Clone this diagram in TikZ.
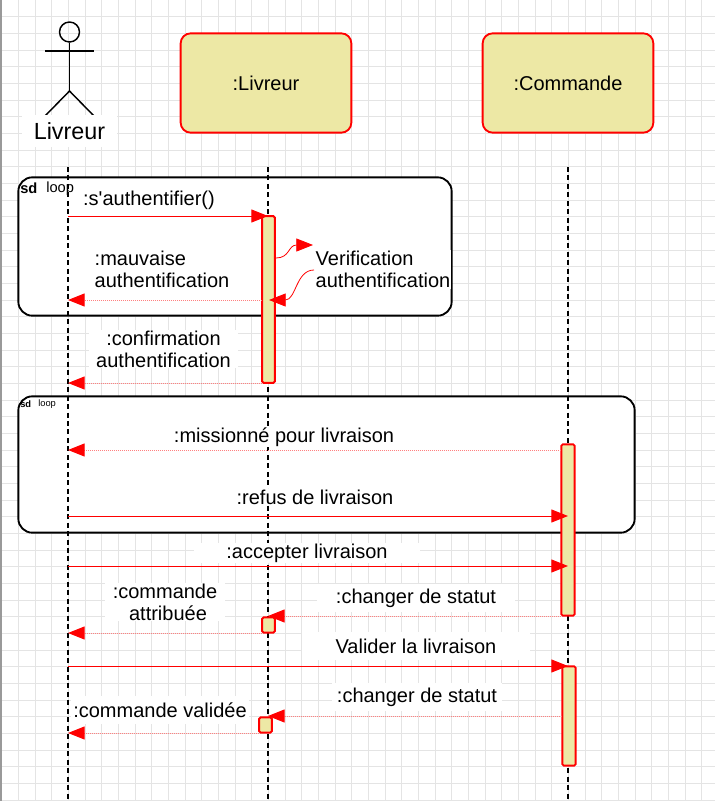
\documentclass[tikz,border=0pt]{standalone}
\usepackage{fontspec}
\setmainfont{Liberation Sans}
\usepackage{xcolor}
\usetikzlibrary{arrows.meta}
\definecolor{sable}{RGB}{237,232,165}
\definecolor{quadrillage}{RGB}{228,228,228}
\tikzset{
    lifeline/.style={black, line width=1.1pt, dash pattern=on 3.75pt off 2.6pt},
    objet/.style={draw=red, fill=sable, line width=1.4pt, rounded corners=7.5pt, minimum width=128pt, minimum height=74.5pt, font=\fontsize{15}{18}\selectfont},
    activation/.style={draw=red, fill=sable, line width=1.4pt, rounded corners=1.1pt, minimum width=9.5pt, inner sep=0pt},
    fragment/.style={draw=black, fill=white, line width=1.4pt, rounded corners=10.5pt},
    msgplein/.style={red, line width=0.75pt, -{Triangle[length=12.5pt, width=9.75pt]}},
    msgvue/.style={red, line width=0.6pt, -{Triangle[length=12.5pt, width=9.75pt]}},
    msgretour/.style={red!50, line width=0.75pt, dash pattern=on 0.75pt off 0.75pt, -{Triangle[length=12.5pt, width=9.75pt, color=red, fill=red]}},
    msglabel/.style={fill=white, inner sep=0.75pt, align=center, font=\fontsize{15}{16.5}\selectfont},
    cadrelabel/.style={inner sep=0pt, anchor=west}
}
\begin{document}
\begin{tikzpicture}[x=0.75pt, y=-0.75pt]
        \useasboundingbox (0,0) rectangle (715,801);

        % fond quadrille
        \foreach \k in {0,...,42} {
            \draw[quadrillage, line width=0.75pt] ({1.67+16.67*\k},0) -- ({1.67+16.67*\k},801);
        }
        \foreach \k in {1,...,48} {
            \draw[quadrillage, line width=0.75pt] (0,{16.67*\k}) -- (715,{16.67*\k});
        }
        \draw[gray!80, line width=1.5pt] (1,0) -- (1,801);

        % cadres loop
        \node[fragment, minimum width=325pt, minimum height=103.75pt] (loop1) at (235,246.5) {};
        \node[fragment, minimum width=462.25pt, minimum height=102.25pt] (loop2) at (326.5,464.5) {};
        \node[cadrelabel, font=\fontsize{11}{12}\selectfont\bfseries] (sd1) at (20,188) {sd};
        \node[cadrelabel, font=\fontsize{11}{12}\selectfont] (type1) at (46,189) {loop};
        \node[cadrelabel, font=\fontsize{7}{8}\selectfont\bfseries] (sd2) at (20,404) {sd};
        \node[cadrelabel, font=\fontsize{7}{8}\selectfont] (type2) at (38,404.5) {loop};

        % acteur
        \node[draw=black, circle, line width=1.1pt, minimum size=15pt, inner sep=0pt] (tete) at (69.5,32) {};
        \coordinate (bassin) at (69.5,91);
        \coordinate (brasg) at (45,51);
        \coordinate (brasd) at (94,51);
        \coordinate (piedg) at (45,116);
        \coordinate (piedd) at (94,116);
        \draw[line width=1.1pt] (tete) -- (bassin);
        \draw[line width=1.1pt] (brasg) -- (brasd);
        \draw[line width=1.1pt] (piedg) -- (bassin) -- (piedd);

        % objets
        \node[fill=white, inner sep=0.75pt, minimum width=71pt, minimum height=24pt, font=\fontsize{17.5}{20}\selectfont] (livreur) at (69.5,131) {Livreur};
        \node[objet] (oblivreur) at (266,83) {:Livreur};
        \node[objet] (obcommande) at (568,83) {:Commande};

        % lignes de vie
        \coordinate (l0) at (68,167);
        \coordinate (l1) at (268,167);
        \coordinate (l2) at (568,167);
        \coordinate (b0) at (68,801);
        \coordinate (b1) at (268,801);
        \coordinate (b2) at (568,801);
        \draw[lifeline] (l0) -- (b0);
        \draw[lifeline] (l1) -- (b1);
        \draw[lifeline] (l2) -- (b2);

        % textes
        \node[msglabel] (t1) at (149,200) {:s\textquotesingle authentifier()};
        \node[msglabel, align=left] (t2) at (162,269.5) {:mauvaise\\authentification};
        \node[msglabel, align=left] (t3) at (383,269.5) {Verification\\authentification};
        \node[msglabel, minimum width=112pt] (t4) at (163.5,349) {:confirmation\\authentification};
        \node[msglabel] (t5) at (284,437) {:missionné pour livraison};
        \node[msglabel] (t6) at (315,497) {:refus de livraison};
        \node[msglabel, minimum width=169pt] (t7) at (307,553) {:accepter livraison};
        \node[msglabel, minimum width=90pt] (t8) at (165,602) {:commande\\\hspace*{4.5pt}attribuée};
        \node[msglabel, minimum width=148pt, minimum height=21pt] (t9) at (416,598) {:changer de statut};
        \node[msglabel, minimum width=171pt, minimum height=21pt] (t10) at (416,646) {Valider la livraison};
        \node[msglabel, minimum width=127pt, minimum height=21pt] (t11) at (417,697) {:changer de statut};
        \node[msglabel, minimum width=133pt, minimum height=21pt] (t12) at (160,710) {:commande validée};

        % activations
        \node[activation, minimum height=125pt] (a1) at (268.5,299.5) {};
        \node[activation, minimum height=128.5pt, minimum width=10pt] (a2) at (568,530) {};
        \node[activation, minimum height=11.5pt] (a3) at (268.5,625) {};
        \node[activation, minimum height=74.5pt, minimum width=10pt] (a4) at (569,716) {};
        \node[activation, minimum height=11.5pt] (a5) at (265.5,725) {};

        % extremites des messages
        \coordinate (m1a) at (68,216);
        \coordinate (m1b) at (268,216);
        \coordinate (m2a) at (262,300);
        \coordinate (m2b) at (68,300);
        \coordinate (m3a) at (262,383);
        \coordinate (m3b) at (68,383);
        \coordinate (m4a) at (561,450);
        \coordinate (m4b) at (68,450);
        \coordinate (m5a) at (68,516);
        \coordinate (m5b) at (568,516);
        \coordinate (m6a) at (68,566);
        \coordinate (m6b) at (568,566);
        \coordinate (m7a) at (561,616);
        \coordinate (m7b) at (268,616);
        \coordinate (m8a) at (262,633);
        \coordinate (m8b) at (68,633);
        \coordinate (m9a) at (68,666);
        \coordinate (m9b) at (568,666);
        \coordinate (m10a) at (562,716);
        \coordinate (m10b) at (268,716);
        \coordinate (m11a) at (259,733);
        \coordinate (m11b) at (68,733);
        \coordinate (v1a) at (276,258);
        \coordinate (v1b) at (313,245);
        \coordinate (v2a) at (314,270);
        \coordinate (v2b) at (269,300);

        \draw[msgplein] (m1a) -- (m1b);
        \draw[msgretour] (m2a) -- (m2b);
        \draw[msgretour] (m3a) -- (m3b);
        \draw[msgretour] (m4a) -- (m4b);
        \draw[msgplein] (m5a) -- (m5b);
        \draw[msgplein] (m6a) -- (m6b);
        \draw[msgretour] (m7a) -- (m7b);
        \draw[msgretour] (m8a) -- (m8b);
        \draw[msgplein] (m9a) -- (m9b);
        \draw[msgretour] (m10a) -- (m10b);
        \draw[msgretour] (m11a) -- (m11b);

        % verification
        \draw[msgvue] (v1a) .. controls (290,258) and (288,245) .. (v1b);
        \draw[msgvue] (v2a) .. controls (296,270) and (296,300) .. (v2b);
    \end{tikzpicture}
\end{document}
